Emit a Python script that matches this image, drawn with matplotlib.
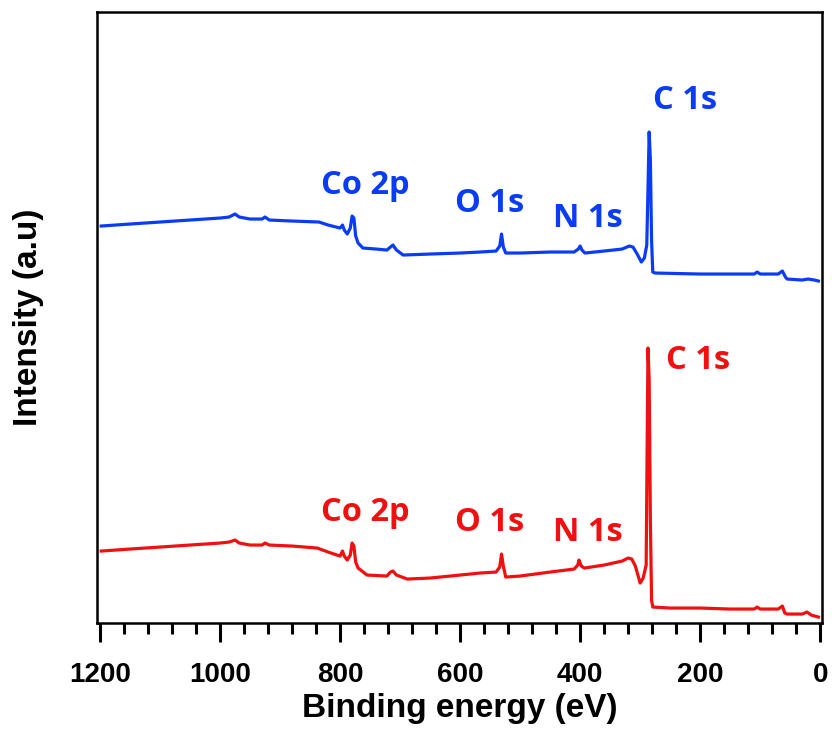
"""
XPS survey spectra of the two samples (blue above, red below)
"""
import matplotlib.pyplot as plt
from matplotlib.ticker import MultipleLocator, NullLocator

# binding energy (eV) and intensity (a.u.)
BLUE_EV = [1198, 1150, 1100, 1050, 1000, 985, 975, 968, 950, 930, 925, 918,
           880, 835, 820, 800, 796, 793, 788, 783, 780, 777, 774, 770, 762,
           740, 722, 716, 712, 706, 695, 650, 600, 567, 540, 534, 531, 528,
           524, 500, 450, 410, 403, 400, 397, 392, 360, 330, 318, 312, 305,
           298, 293, 289, 287, 285, 283, 281, 279, 275, 200, 160, 110, 105,
           100, 70, 63, 58, 55, 30, 20, 10, 3]
BLUE_INT = [397, 399, 401, 403, 405, 406, 409, 406, 404, 404, 406, 403,
            402, 401, 398, 395, 398, 393, 389, 395, 407, 405, 387, 380, 375,
            374, 373, 376, 378, 373, 368, 369, 370, 371, 372, 377, 389, 376,
            370, 370, 371, 371, 374, 377, 373, 370, 372, 374, 377, 376, 369,
            361, 365, 378, 433, 491, 463, 383, 351, 350, 349, 349, 349, 351,
            349, 349, 352, 346, 344, 343, 344, 343, 342]

RED_EV = [1198, 1150, 1100, 1050, 1000, 985, 975, 968, 950, 930, 925, 918,
          880, 838, 820, 800, 796, 793, 788, 783, 780, 777, 774, 770, 755,
          722, 716, 712, 706, 688, 650, 600, 567, 540, 534, 531, 528, 524,
          500, 450, 410, 404, 402, 398, 393, 360, 330, 320, 314, 308, 300,
          295, 290, 288, 287, 285, 283, 281, 279, 250, 200, 150, 110, 105,
          100, 70, 63, 59, 55, 30, 22, 15, 3]
RED_INT = [72, 74, 76, 78, 80, 81, 83, 80, 78, 78, 80, 78,
           77, 75, 71, 67, 72, 67, 63, 68, 80, 77, 61, 55, 48,
           47, 51, 52, 48, 44, 45, 48, 50, 51, 56, 69, 57, 46,
           47, 51, 54, 58, 63, 57, 55, 58, 62, 65, 64, 57, 40,
           45, 58, 203, 275, 243, 103, 23, 16, 15, 15, 14, 14, 16,
           14, 14, 17, 10, 9, 9, 11, 8, 6]

# peak labels: text, energy, intensity
PEAKS = ["Co 2p", "O 1s", "N 1s", "C 1s"]
BLUE_LABEL_EV = [758, 550, 387, 225]
BLUE_LABEL_INT = [438, 420, 405, 523]
RED_LABEL_EV = [758, 550, 387, 203]
RED_LABEL_INT = [111, 101, 91, 263]

BLUE = "#0a3cf5"
RED = "#f01010"


def main():
    """draw the two spectra with their peak labels"""
    fig = plt.figure(figsize=(8.32, 7.33), dpi=100)
    ax = fig.add_axes([0.1166, 0.150, 0.8714, 0.8336])

    ax.plot(BLUE_EV, BLUE_INT, color=BLUE, lw=2.3)
    ax.plot(RED_EV, RED_INT, color=RED, lw=2.3)

    label_font = dict(family="Open Sans", weight="bold", size=23.5,
                      ha="center", va="center")
    for name, x, y in zip(PEAKS, BLUE_LABEL_EV, BLUE_LABEL_INT):
        ax.text(x, y, name, color=BLUE, **label_font)
    for name, x, y in zip(PEAKS, RED_LABEL_EV, RED_LABEL_INT):
        ax.text(x, y, name, color=RED, **label_font)

    ax.set_xlim(1205, -3)
    ax.set_ylim(0, 611)
    ax.xaxis.set_major_locator(MultipleLocator(200))
    ax.xaxis.set_minor_locator(MultipleLocator(40))
    ax.yaxis.set_major_locator(NullLocator())
    ax.tick_params(axis="x", which="major", direction="out", length=13.7,
                   width=2.2, pad=14)
    ax.tick_params(axis="x", which="minor", direction="out", length=8,
                   width=2.2)
    for label in ax.get_xticklabels():
        label.set_fontfamily("Liberation Sans")
        label.set_fontweight("bold")
        label.set_fontsize(20)
    for spine in ax.spines.values():
        spine.set_linewidth(1.8)

    ax.set_xlabel("Binding energy (eV)", family="Liberation Sans",
                  weight="bold", size=24, labelpad=4)
    ax.set_ylabel("Intensity (a.u)", family="Liberation Sans",
                  weight="bold", size=24, labelpad=38)

    fig.savefig("out.png", dpi=100)
    plt.close(fig)


if __name__ == "__main__":
    main()
